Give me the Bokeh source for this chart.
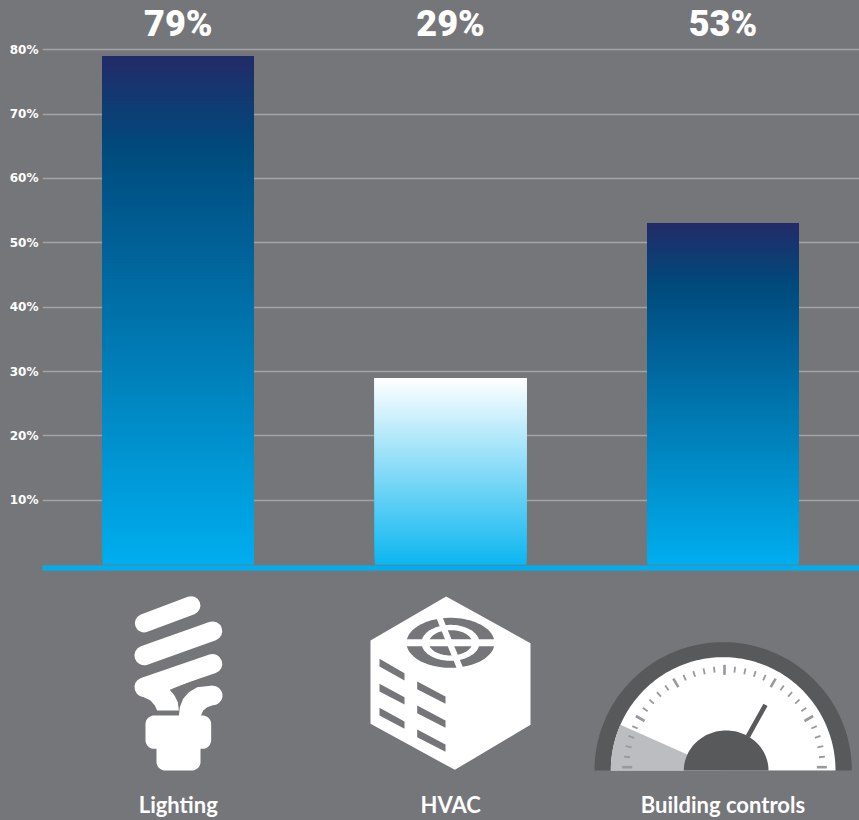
import math
from bokeh.core.properties import value
from bokeh.embed import file_html
from bokeh.models import FixedTicker, Range1d
from bokeh.plotting import figure
from bokeh.resources import INLINE

# Chart data
categories = ["Lighting", "HVAC", "Building controls"]
shares = [79, 29, 53]
tick_values = [10, 20, 30, 40, 50, 60, 70, 80]
tick_labels = ["10%", "20%", "30%", "40%", "50%", "60%", "70%", "80%"]

BG = "#75767a"
GRID = "#a3a4a7"
CYAN = "#00aeef"
DARK = "#58595b"
WHITE = "#ffffff"

DEEP_STOPS = [(0.0, "#222b68"), (0.18, "#004a7c"), (1.0, "#00aeef")]
LIGHT_STOPS = [(0.0, "#ffffff"), (1.0, "#0cb6f0")]
bar_stops = [DEEP_STOPS, LIGHT_STOPS, DEEP_STOPS]

p = figure(width=859, height=820, output_backend="svg", toolbar_location=None,
           x_range=Range1d(-0.4985, 2.5015), y_range=Range1d(-39.73, 87.65),
           min_border=0, min_border_left=42, outline_line_color=None,
           background_fill_color=None, border_fill_color=None,
           styles={"background-color": BG})

# Page-pixel ranges for the pictograms under the bars
p.extra_x_ranges["px"] = Range1d(42, 859)
p.extra_y_ranges["px"] = Range1d(820, 0)

p.xaxis.visible = False
p.xgrid.visible = False
p.ygrid.ticker = FixedTicker(ticks=tick_values)
p.ygrid.grid_line_color = GRID
p.ygrid.grid_line_width = 1.3

ax = p.yaxis[0]
ax.ticker = FixedTicker(ticks=tick_values)
ax.major_label_overrides = dict(zip(tick_values, tick_labels))
ax.axis_line_color = None
ax.major_tick_line_color = None
ax.minor_tick_line_color = None
ax.major_tick_out = 0
ax.major_label_standoff = 4
ax.major_label_text_color = WHITE
ax.major_label_text_font = "DejaVu Sans"
ax.major_label_text_font_style = "bold"
ax.major_label_text_font_size = "12px"


def lerp_color(stops, t):
    for (t0, c0), (t1, c1) in zip(stops, stops[1:]):
        if t <= t1:
            k = (t - t0) / (t1 - t0)
            rgb = [round(int(c0[i:i + 2], 16) * (1 - k) + int(c1[i:i + 2], 16) * k)
                   for i in (1, 3, 5)]
            return "#%02x%02x%02x" % tuple(rgb)
    return stops[-1][1]


# Each bar is a stack of overlapping bands, painted from the base upward
BAR_W = 0.556
BANDS = 160
for idx, (share, stops) in enumerate(zip(shares, bar_stops)):
    bottoms = [share * i / BANDS for i in range(BANDS)]
    colors = [lerp_color(stops, 1 - (i + 0.5) / BANDS) for i in range(BANDS)]
    p.quad(left=idx - BAR_W / 2, right=idx + BAR_W / 2, bottom=bottoms, top=share,
           fill_color=colors, line_color=None)

# Baseline
p.quad(left=42, right=859, top=565, bottom=570, fill_color=CYAN, line_color=None,
       x_range_name="px", y_range_name="px")

# Value labels and category labels
p.text(x=list(range(3)), y=[84.0] * 3, text=[f"{s}%" for s in shares],
       text_font=value("Roboto Black"), text_font_size="36px",
       text_color=WHITE, text_align="center", text_baseline="middle")
p.text(x=list(range(3)), y=[-37.2] * 3, text=categories,
       text_font=value("Lato"), text_font_style="bold", text_font_size="22px",
       text_color=WHITE, text_align="center", text_baseline="middle")


def fill(points, color):
    p.patch([a for a, _ in points], [b for _, b in points], fill_color=color,
            line_color=None, x_range_name="px", y_range_name="px")


def stroke(points, color, width, cap="butt"):
    p.line([a for a, _ in points], [b for _, b in points], line_color=color,
           line_width=width, line_cap=cap, x_range_name="px", y_range_name="px")


def arc(cx, cy, rx, ry, a0, a1, n=48):
    return [(cx + rx * math.cos(math.radians(a0 + (a1 - a0) * i / n)),
             cy - ry * math.sin(math.radians(a0 + (a1 - a0) * i / n)))
            for i in range(n + 1)]


def rounded(x0, y0, x1, y1, r):
    return (arc(x1 - r, y0 + r, r, r, 90, 0, 10) + arc(x1 - r, y1 - r, r, r, 0, -90, 10)
            + arc(x0 + r, y1 - r, r, r, -90, -180, 10) + arc(x0 + r, y0 + r, r, r, 180, 90, 10))


def place(ox, oy, pts, k=3.0):
    return [(ox + a / k, oy + b / k) for a, b in pts]


# Light bulb pictogram
bulb = lambda pts: place(100, 580, pts)
stroke(bulb([(131, 128), (272, 75)]), WHITE, 18.5, "round")
stroke(bulb([(131, 225), (336, 152)]), WHITE, 19.5, "round")
stroke(bulb([(131, 320), (336, 250)]), WHITE, 19.5, "round")
fill(bulb([(103, 318), (112, 338), (130, 350), (150, 360), (163, 375), (170, 390),
           (235, 390), (232, 365), (222, 345), (208, 328), (300, 290), (130, 290)]), WHITE)
fill(bulb([(235, 408), (238, 380), (248, 355), (265, 335), (290, 320), (337, 315)]
          + arc(337, 345, 29, 29, 90, -90, 16)
          + [(320, 380), (308, 390), (300, 408)]), WHITE)
fill(bulb(rounded(135, 405, 332, 505, 26)), WHITE)
fill(bulb(rounded(168, 470, 300, 570, 26)), WHITE)

# Condenser unit pictogram
unit = lambda pts: place(360, 585, pts)
fill(unit([(257, 33), (510, 173), (510, 418), (283, 553), (30, 415), (30, 165)]), WHITE)
fill(unit(arc(270, 172, 132, 75, 0, 360, 90)), BG)
fill(unit(arc(270, 172, 87, 54, 0, 360, 90)), WHITE)
fill(unit(arc(270, 172, 65, 38, 0, 360, 90)), BG)
stroke(unit([(132, 172), (408, 172)]), WHITE, 7)
stroke(unit([(235, 92), (300, 252)]), WHITE, 6)
louvers = [(57, 220, 132, 263), (57, 295, 132, 335), (57, 367, 132, 408),
           (170, 288, 255, 333), (170, 360, 255, 405), (170, 432, 255, 477)]
for x0, y0, x1, y1 in louvers:
    fill(unit([(x0, y0), (x1, y1), (x1, y1 + 22), (x0, y0 + 23)]), BG)

# Gauge pictogram
gauge = lambda pts: place(585, 630, pts)
fill(gauge(arc(413, 420, 386, 385, 0, 180, 120)), DARK)
fill(gauge(arc(413, 420, 337, 340, 0, 180, 120)), WHITE)
fill(gauge([(413, 420)] + arc(413, 420, 337, 340, 156.2, 180, 24)), "#bcbdc0")
for deg in range(0, 181, 6):
    major = deg % 30 == 0
    r0, r1 = (277, 307) if major else (285, 303)
    c, s = math.cos(math.radians(deg)), math.sin(math.radians(deg))
    stroke(gauge([(417 + r0 * c, 410 - r0 * s), (417 + r1 * c, 410 - r1 * s)]),
           "#98999c", 2.6 if major else 1.8)
stroke(gauge([(487, 318), (540, 223)]), DARK, 4.7)
fill(gauge(arc(422, 420, 127, 120, 0, 180, 60)), DARK)

open("out.html", "w").write(file_html(p, INLINE))
